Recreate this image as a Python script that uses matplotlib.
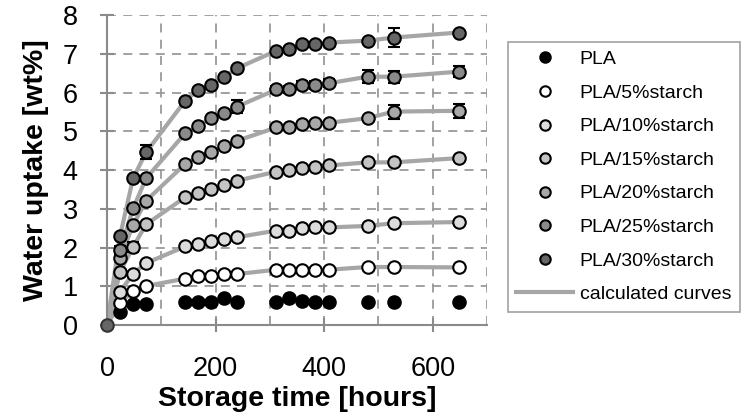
import matplotlib.pyplot as plt
from matplotlib.lines import Line2D
from matplotlib.ticker import MultipleLocator

plt.rcParams['font.family'] = ['Liberation Sans', 'DejaVu Sans']

# storage time [hours]
hours = [24, 48, 72, 144, 168, 192, 216, 240, 312, 336, 360, 384, 408, 480, 528, 648]

# water uptake [wt%]
pla = [0.33, 0.55, 0.55, 0.61, 0.61, 0.61, 0.70, 0.61, 0.61, 0.70, 0.63, 0.61, 0.61, 0.61, 0.61, 0.61]
s5 = [0.58, 0.88, 1.01, 1.20, 1.26, 1.27, 1.32, 1.32, 1.43, 1.43, 1.43, 1.43, 1.43, 1.50, 1.50, 1.49]
s10 = [0.86, 1.33, 1.60, 2.03, 2.10, 2.16, 2.22, 2.27, 2.44, 2.44, 2.50, 2.52, 2.52, 2.56, 2.63, 2.66]
s15 = [1.37, 2.02, 2.60, 3.30, 3.40, 3.50, 3.62, 3.73, 3.96, 4.00, 4.05, 4.09, 4.12, 4.20, 4.20, 4.31]
s20 = [1.74, 2.58, 3.21, 4.16, 4.35, 4.48, 4.62, 4.76, 5.10, 5.12, 5.18, 5.21, 5.22, 5.34, 5.51, 5.53]
s25 = [1.93, 3.01, 3.79, 4.95, 5.14, 5.34, 5.47, 5.64, 6.08, 6.08, 6.20, 6.20, 6.24, 6.41, 6.41, 6.54]
s30 = [2.30, 3.79, 4.46, 5.79, 6.07, 6.20, 6.41, 6.63, 7.08, 7.12, 7.25, 7.25, 7.29, 7.34, 7.42, 7.55]

# error bars (0 = none shown)
e15 = [0, 0.12, 0, 0, 0, 0, 0, 0, 0, 0, 0, 0, 0, 0, 0, 0]
e20 = [0, 0, 0, 0, 0, 0, 0, 0, 0, 0, 0, 0, 0, 0, 0.18, 0.18]
e25 = [0.1, 0, 0, 0, 0, 0, 0, 0.17, 0.1, 0.1, 0.1, 0.1, 0.1, 0.17, 0.15, 0.15]
e30 = [0, 0, 0.18, 0, 0, 0, 0, 0, 0, 0, 0, 0, 0, 0, 0.25, 0]

labels = ['PLA', 'PLA/5%starch', 'PLA/10%starch', 'PLA/15%starch',
          'PLA/20%starch', 'PLA/25%starch', 'PLA/30%starch']
colors = ['black', 'white', '#dcdcdc', '#c4c4c4', '#a8a8a8', '#8a8a8a', '#666666']

fig = plt.figure(figsize=(7.51, 4.19), dpi=100)
ax = fig.add_axes([0.1425, 0.224, 0.506, 0.74])

series = [pla, s5, s10, s15, s20, s25, s30]
errs = [None, None, None, e15, e20, e25, e30]

# calculated curves (starch blends, start at origin)
for s in series[1:]:
    ax.plot([0] + hours, [0] + s, color='#a6a6a6', lw=3, zorder=2)

for s, e, c in zip(series, errs, colors):
    if e is not None:
        ax.errorbar(hours, s, yerr=e, fmt='none', ecolor='black', elinewidth=1.5,
                    capsize=4, capthick=1.5, zorder=3)
    ax.plot(hours, s, 'o', ms=9, mfc=c, mec='black', mew=1.5, zorder=4)

ax.plot([0], [0], 'o', ms=9, mfc=colors[-1], mec='#333333', mew=1.5, zorder=4,
        clip_on=False)

ax.set_xlim(0, 700)
ax.set_ylim(0, 8)
ax.xaxis.set_major_locator(MultipleLocator(200))
ax.xaxis.set_minor_locator(MultipleLocator(100))
ax.yaxis.set_major_locator(MultipleLocator(1))
ax.grid(True, which='both', ls=(0, (5, 4)), color='#9a9a9a', lw=1.3)
ax.set_axisbelow(True)
for side in ['top', 'right']:
    ax.spines[side].set_visible(False)
for side in ['left', 'bottom']:
    ax.spines[side].set_color('#8a8a8a')
    ax.spines[side].set_linewidth(1.5)
ax.tick_params(which='major', direction='inout', length=10, width=1.5, color='#8a8a8a',
               labelsize=19.5)
ax.tick_params(axis='x', pad=17)
ax.tick_params(axis='y', pad=16)
ax.tick_params(which='minor', length=0)
ax.set_xlabel('Storage time [hours]', fontsize=20.5, fontweight='bold', labelpad=3)
ax.set_ylabel('Water uptake [wt%]', fontsize=20.5, fontweight='bold', labelpad=10)

handles = [Line2D([], [], ls='none', marker='o', ms=7.5, mfc=c, mec='black', mew=1.5)
           for c in colors]
handles.append(Line2D([], [], color='#a6a6a6', lw=3))
leg = fig.legend(handles, labels + ['calculated curves'], loc='upper left',
                 bbox_to_anchor=(0.676, 0.9), fontsize=14, frameon=True,
                 fancybox=False, edgecolor='#8a8a8a', labelspacing=0.82,
                 handlelength=2.9, handletextpad=0.35, borderpad=0.45,
                 borderaxespad=0)
leg.get_frame().set_linewidth(1.2)

fig.savefig('out.png', dpi=100)
